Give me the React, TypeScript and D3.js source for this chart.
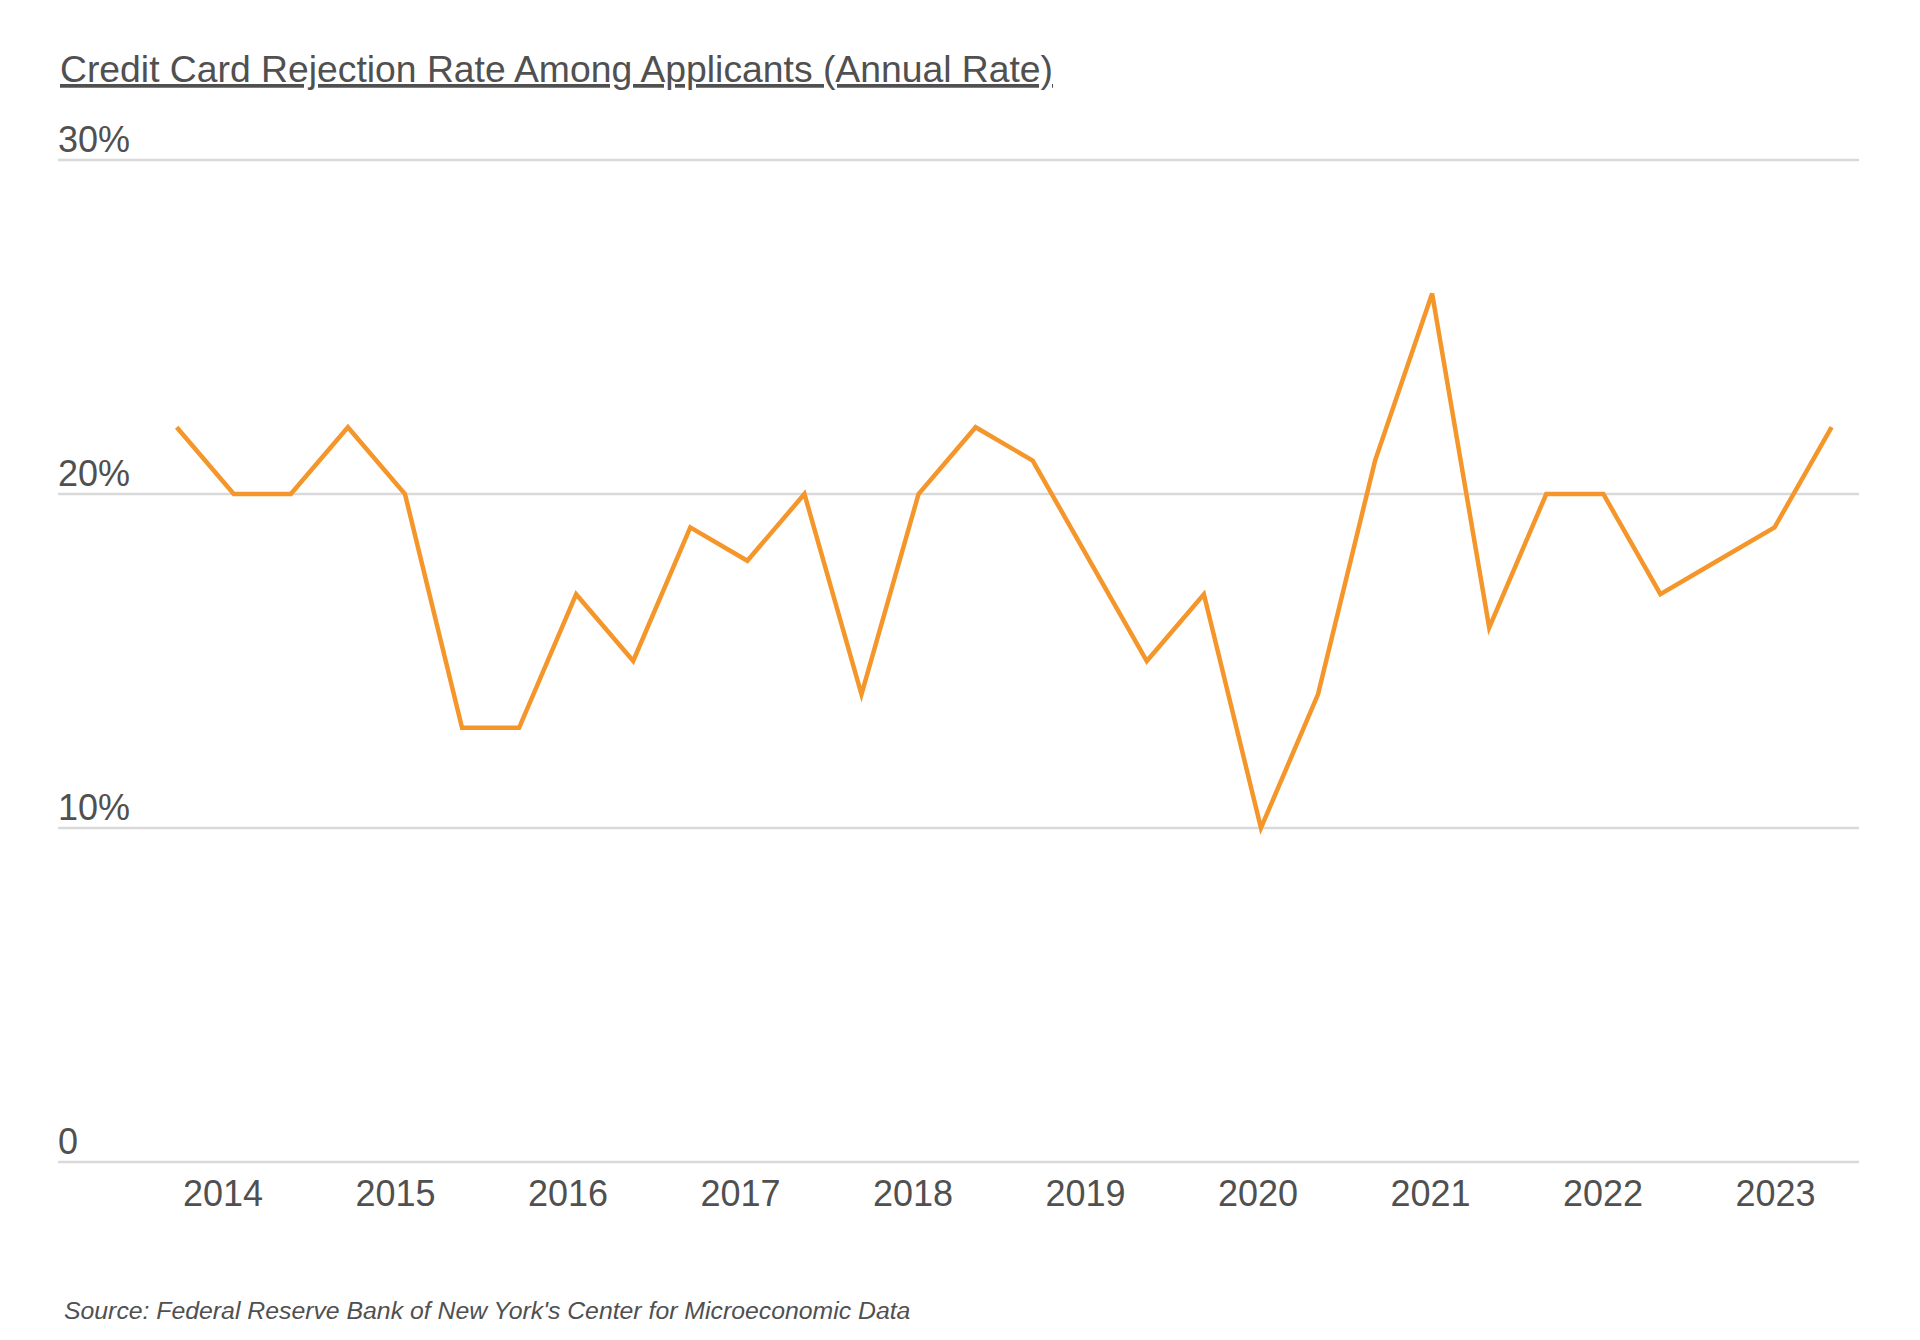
import React from "react";
import * as d3 from "d3";

const TITLE = "Credit Card Rejection Rate Among Applicants (Annual Rate)";
const SOURCE = "Source: Federal Reserve Bank of New York's Center for Microeconomic Data";

const periods = [
  "Oct 2013", "Feb 2014", "Jun 2014", "Oct 2014", "Feb 2015", "Jun 2015", "Oct 2015",
  "Feb 2016", "Jun 2016", "Oct 2016", "Feb 2017", "Jun 2017", "Oct 2017",
  "Feb 2018", "Jun 2018", "Oct 2018", "Feb 2019", "Jun 2019", "Oct 2019",
  "Feb 2020", "Jun 2020", "Oct 2020", "Feb 2021", "Jun 2021", "Oct 2021",
  "Feb 2022", "Jun 2022", "Oct 2022", "Feb 2023", "Jun 2023",
];

const rejectionRate = [
  22, 20, 20, 22, 20, 13, 13,
  17, 15, 19, 18, 20, 14,
  20, 22, 21, 18, 15, 17,
  10, 14, 21, 26, 16, 20,
  20, 17, 18, 19, 22,
];

const yTicks = [0, 10, 20, 30];
const yTickLabels = ["0", "10%", "20%", "30%"];
const yearTicks = [2014, 2015, 2016, 2017, 2018, 2019, 2020, 2021, 2022, 2023];

const FONT = "'Liberation Sans', Arial, Helvetica, sans-serif";
const TEXT = "#505050";

export default function App() {
  const W = 1920;
  const H = 1340;
  const gridLeft = 58;
  const gridRight = 1859;

  const x = d3.scalePoint<string>().domain(periods).range([176.7, 1831.6]);
  const xYear = d3.scaleLinear().domain([2014, 2023]).range([223, 1775.5]);
  const y = d3.scaleLinear().domain([0, 30]).range([1162, 160]);

  const line = d3
    .line<number>()
    .x((_, i) => x(periods[i]) as number)
    .y((d) => y(d));

  return (
    <svg
      width={W}
      height={H}
      style={{ position: "absolute", left: 0, top: 0, background: "#fff" }}
      fontFamily={FONT}
    >
      <rect x={0} y={0} width={W} height={H} fill="#fff" />
      <text
        x={60}
        y={82}
        fontSize={37.3}
        fill={TEXT}
        style={{ textDecoration: "underline" }}
      >
        {TITLE}
      </text>

      {yTicks.map((t, i) => (
        <g key={t}>
          <line
            x1={gridLeft}
            x2={gridRight}
            y1={y(t)}
            y2={y(t)}
            stroke="#d9d9d9"
            strokeWidth={2.5}
          />
          <text x={58} y={y(t) - 8.5} fontSize={36} fill={TEXT}>
            {yTickLabels[i]}
          </text>
        </g>
      ))}

      {yearTicks.map((yr) => (
        <text
          key={yr}
          x={xYear(yr)}
          y={1205.5}
          fontSize={36}
          fill={TEXT}
          textAnchor="middle"
        >
          {yr}
        </text>
      ))}

      <path
        d={line(rejectionRate) || ""}
        fill="none"
        stroke="#F4962A"
        strokeWidth={4.5}
        strokeLinejoin="miter"
        strokeLinecap="butt"
      />

      <text x={64} y={1319} fontSize={24.8} fontStyle="italic" fill={TEXT}>
        {SOURCE}
      </text>
    </svg>
  );
}
